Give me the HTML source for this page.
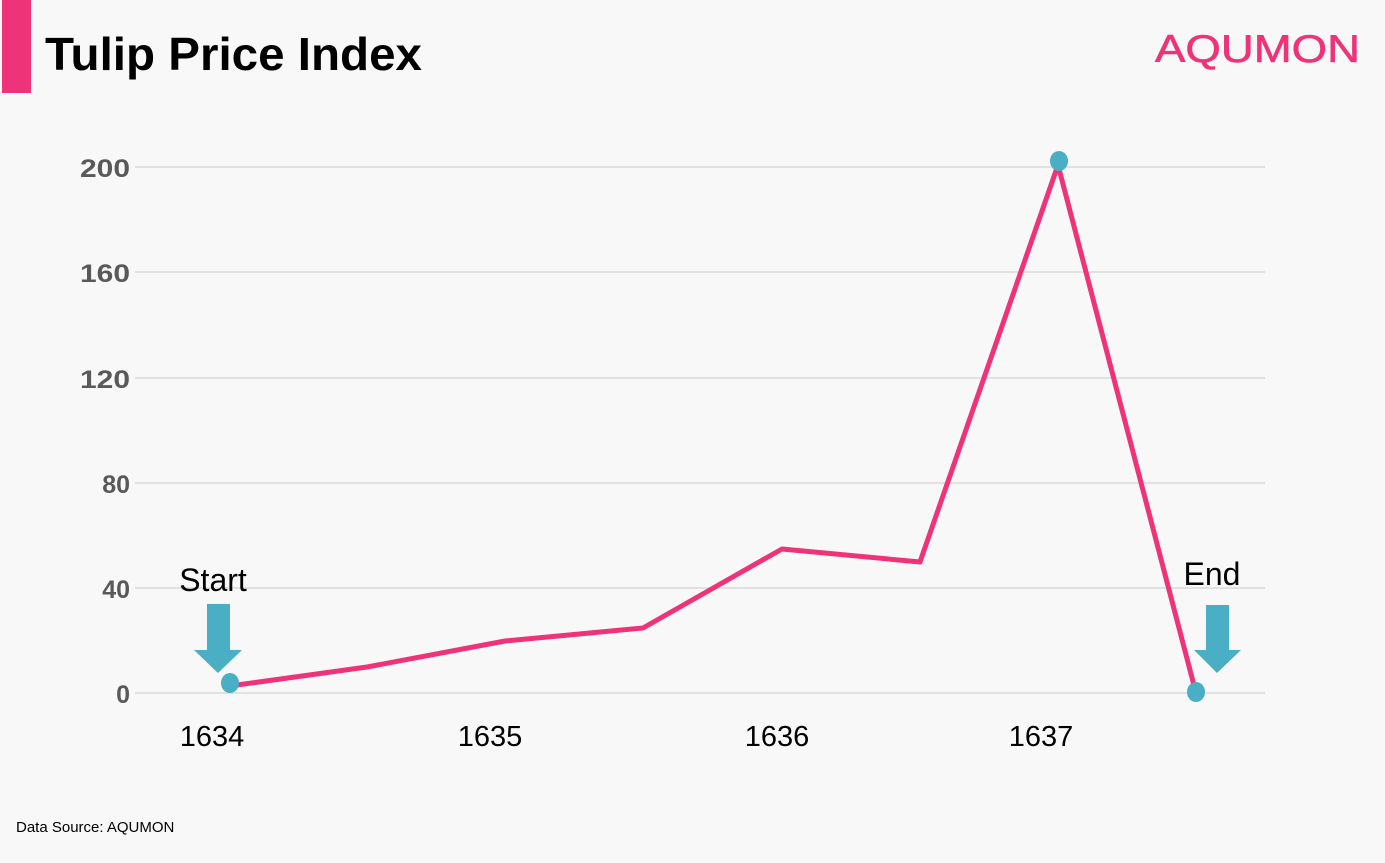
<!DOCTYPE html>
<html><head><style>
body{margin:0;width:1385px;height:858px;background:#f8f8f8;overflow:hidden;font-family:"Liberation Sans",sans-serif}
</style></head><body>
<svg width="1385" height="858" xmlns="http://www.w3.org/2000/svg">
<rect x="0" y="0" width="1385" height="858" fill="#f8f8f8"/>
<rect x="2" y="0" width="29" height="93" fill="#ee3379"/>
<text x="45" y="70" font-family="Liberation Sans, sans-serif" font-weight="bold" font-size="46" fill="#000" textLength="377" lengthAdjust="spacingAndGlyphs">Tulip Price Index</text>
<text x="1360" y="62" text-anchor="end" font-family="Liberation Sans, sans-serif" font-size="39" fill="#ee3379" textLength="205" lengthAdjust="spacingAndGlyphs" stroke="#ee3379" stroke-width="0.6">AQUMON</text>
<g stroke="#d9d9d9" stroke-width="1.5">
<line x1="135" x2="1265" y1="167" y2="167"/><line x1="135" x2="1265" y1="272" y2="272"/>
<line x1="135" x2="1265" y1="378" y2="378"/><line x1="135" x2="1265" y1="483" y2="483"/>
<line x1="135" x2="1265" y1="588" y2="588"/><line x1="135" x2="1265" y1="693" y2="693"/>
</g>
<g font-family="Liberation Sans, sans-serif" font-weight="bold" font-size="25" fill="#595959" text-anchor="end">
<text x="130" y="177" textLength="50" lengthAdjust="spacingAndGlyphs">200</text><text x="130" y="282" textLength="50" lengthAdjust="spacingAndGlyphs">160</text><text x="130" y="388" textLength="50" lengthAdjust="spacingAndGlyphs">120</text>
<text x="130" y="493">80</text><text x="130" y="598">40</text><text x="130" y="703">0</text>
</g>
<g font-family="Liberation Sans, sans-serif" font-size="29" fill="#000" text-anchor="middle">
<text x="212" y="746">1634</text><text x="490" y="746">1635</text><text x="777" y="746">1636</text><text x="1041" y="746">1637</text>
<text x="213" y="591" font-size="32">Start</text><text x="1212" y="585" font-size="32">End</text>
</g>
<polyline points="230,686 367,667 505,641 643,628 782,549 920,562 1058,165 1196,693" fill="none" stroke="#ee3379" stroke-width="5" stroke-linejoin="round"/>
<ellipse cx="230" cy="683" rx="9" ry="10" fill="#4aaec5"/>
<ellipse cx="1059" cy="161" rx="9" ry="10" fill="#4aaec5"/>
<ellipse cx="1196" cy="692" rx="9" ry="10" fill="#4aaec5"/>
<polygon points="207,604 230,604 230,650 242,650 218,673 194,650 207,650" fill="#4aaec5"/>
<polygon points="1206,605 1229,605 1229,650 1241,650 1217,673 1194,650 1206,650" fill="#4aaec5"/>
<text x="16" y="832" font-family="Liberation Sans, sans-serif" font-size="15" fill="#000">Data Source:  AQUMON</text>
</svg>
</body></html>
